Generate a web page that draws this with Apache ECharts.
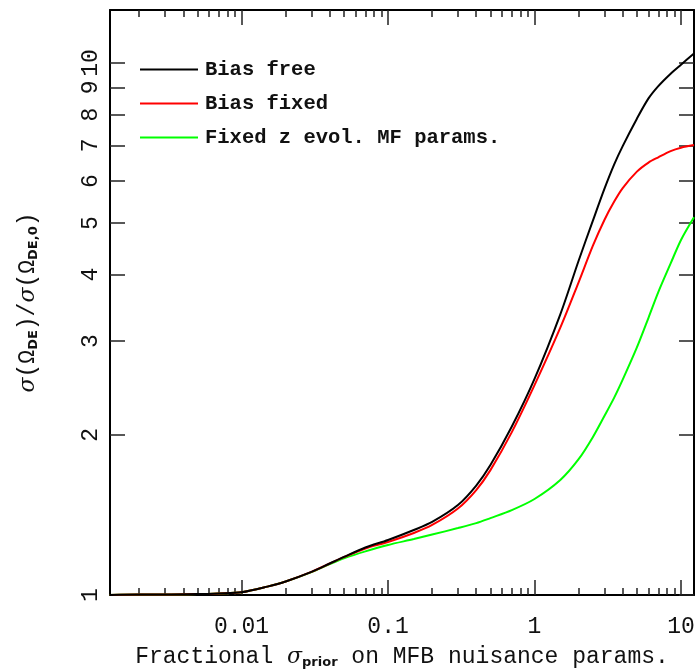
<!DOCTYPE html>
<html>
<head>
<meta charset="utf-8">
<script src="https://cdn.jsdelivr.net/npm/echarts@6/dist/echarts.min.js"></script>
<style>
  html, body { margin: 0; padding: 0; background: #fff; }
  #chart { width: 696px; height: 671px; }
</style>
</head>
<body>
<div id="chart"></div>
<script>
// fractional sigma prior (x) and sigma ratio for each case
var xVals = [0.00126, 0.002, 0.003, 0.005, 0.007, 0.01, 0.015, 0.02, 0.03, 0.04, 0.05, 0.07,
  0.1, 0.15, 0.2, 0.3, 0.4, 0.5, 0.7, 1, 1.5, 2, 2.5, 3, 3.5, 4, 5, 6, 7, 8.5, 10, 12.27];
var biasFree = [1.0, 1.002, 1.002, 1.004, 1.007, 1.012, 1.037, 1.06, 1.105, 1.146, 1.179, 1.228,
  1.269, 1.325, 1.372, 1.476, 1.606, 1.755, 2.073, 2.548, 3.37, 4.25, 5.05, 5.8, 6.45, 6.98, 7.86, 8.58, 9.05, 9.55, 9.93, 10.42];
var biasFixed = [1.0, 1.002, 1.002, 1.004, 1.007, 1.012, 1.037, 1.06, 1.105, 1.146, 1.178, 1.223,
  1.258, 1.308, 1.354, 1.454, 1.575, 1.717, 2.024, 2.48, 3.18, 3.87, 4.53, 5.07, 5.49, 5.82, 6.25, 6.5, 6.65, 6.83, 6.93, 7.01];
var fixedZ = [1.0, 1.002, 1.002, 1.004, 1.007, 1.012, 1.037, 1.06, 1.104, 1.143, 1.172, 1.208,
  1.242, 1.274, 1.299, 1.336, 1.365, 1.395, 1.444, 1.515, 1.645, 1.8, 1.98, 2.17, 2.35, 2.54, 2.92, 3.32, 3.71, 4.2, 4.65, 5.13];

var seriesNames = ["Bias free", "Bias fixed", "Fixed z evol. MF params."];
var seriesColors = ["#000000", "#ff0000", "#00ff00"];

var xMajorTicks = [0.01, 0.1, 1, 10];
var xMinorTicks = [0.002, 0.003, 0.004, 0.005, 0.006, 0.007, 0.008, 0.009,
  0.02, 0.03, 0.04, 0.05, 0.06, 0.07, 0.08, 0.09,
  0.2, 0.3, 0.4, 0.5, 0.6, 0.7, 0.8, 0.9,
  2, 3, 4, 5, 6, 7, 8, 9];
var yTicks = [1, 2, 3, 4, 5, 6, 7, 8, 9, 10];

var X_MIN = 0.001264, X_MAX = 12.27;
var Y_MIN = 1, Y_MAX = 12.58;
var FONT = "Liberation Mono";

function pairs(ys) {
  var out = [];
  for (var i = 0; i < xVals.length; i++) out.push([xVals[i], ys[i]]);
  return out;
}

var chart = echarts.init(document.getElementById("chart"));

var richText = {
  n: { fontFamily: FONT, fontSize: 23, color: "#111", lineHeight: 24, verticalAlign: "middle" },
  i: { fontFamily: "DejaVu Serif", fontStyle: "italic", fontSize: 22, color: "#111", lineHeight: 24, verticalAlign: "middle" },
  s: { fontFamily: "DejaVu Sans", fontWeight: "bold", fontSize: 13, color: "#111", lineHeight: 13, verticalAlign: "bottom" }
};

function xAxisDef(pos, ticks, len, main) {
  return {
    type: "log",
    logBase: 10,
    min: X_MIN,
    max: X_MAX,
    position: pos,
    gridIndex: 0,
    axisLine: { show: main, lineStyle: { color: "#000", width: 2 } },
    axisTick: { show: true, inside: true, length: len, customValues: ticks,
      lineStyle: { color: "#222", width: 1.5 } },
    axisLabel: { show: main && pos === "bottom", customValues: xMajorTicks, margin: 20,
      fontFamily: FONT, fontSize: 23, color: "#111",
      formatter: function (v) { return String(v); } },
    splitLine: { show: false },
    minorTick: { show: false },
    name: main && pos === "bottom" ? "{n|Fractional }{i|σ}{s|prior}{n| on MFB nuisance params.}" : "",
    nameLocation: "middle",
    nameGap: 50,
    nameTextStyle: { rich: richText }
  };
}

function yAxisDef(pos, main) {
  return {
    type: "log",
    logBase: 10,
    min: Y_MIN,
    max: Y_MAX,
    position: pos,
    axisLine: { show: true, lineStyle: { color: "#000", width: 2 } },
    axisTick: { show: true, inside: true, length: 15, customValues: yTicks,
      lineStyle: { color: "#222", width: 1.5 } },
    axisLabel: { show: main, customValues: yTicks, rotate: 90, margin: 8,
      fontFamily: FONT, fontSize: 23, color: "#111",
      formatter: function (v) { return String(v); } },
    splitLine: { show: false },
    name: main ? "{i|σ}{n|(Ω}{s|DE}{n|)/}{i|σ}{n|(Ω}{s|DE,0}{n|)}" : "",
    nameLocation: "middle",
    nameGap: 70,
    nameTextStyle: { rich: richText }
  };
}

var option = {
  animation: false,
  backgroundColor: "#fff",
  grid: { left: 110, right: 2, top: 10, bottom: 76, containLabel: false, outerBoundsMode: "none" },
  legend: {
    orient: "vertical",
    left: 135,
    top: 54,
    icon: "rect",
    itemWidth: 58,
    itemHeight: 2,
    itemGap: 13,
    data: seriesNames,
    textStyle: { fontFamily: FONT, fontWeight: "bold", fontSize: 20.5, color: "#111", padding: [0, 0, 0, 2] }
  },
  xAxis: [
    xAxisDef("bottom", xMajorTicks, 15, true),
    xAxisDef("bottom", xMinorTicks, 7, false),
    xAxisDef("top", xMajorTicks, 15, true),
    xAxisDef("top", xMinorTicks, 7, false)
  ],
  yAxis: [yAxisDef("left", true), yAxisDef("right", false)],
  series: [
    { name: seriesNames[0], data: pairs(biasFree) },
    { name: seriesNames[1], data: pairs(biasFixed) },
    { name: seriesNames[2], data: pairs(fixedZ) }
  ].map(function (s, k) {
    return {
      name: s.name,
      type: "line",
      xAxisIndex: 0,
      yAxisIndex: 0,
      data: s.data,
      symbol: "none",
      smooth: 0.3,
      color: seriesColors[k],
      lineStyle: { color: seriesColors[k], width: 2 },
      z: 10 - k
    };
  })
};

chart.setOption(option);
</script>
</body>
</html>
